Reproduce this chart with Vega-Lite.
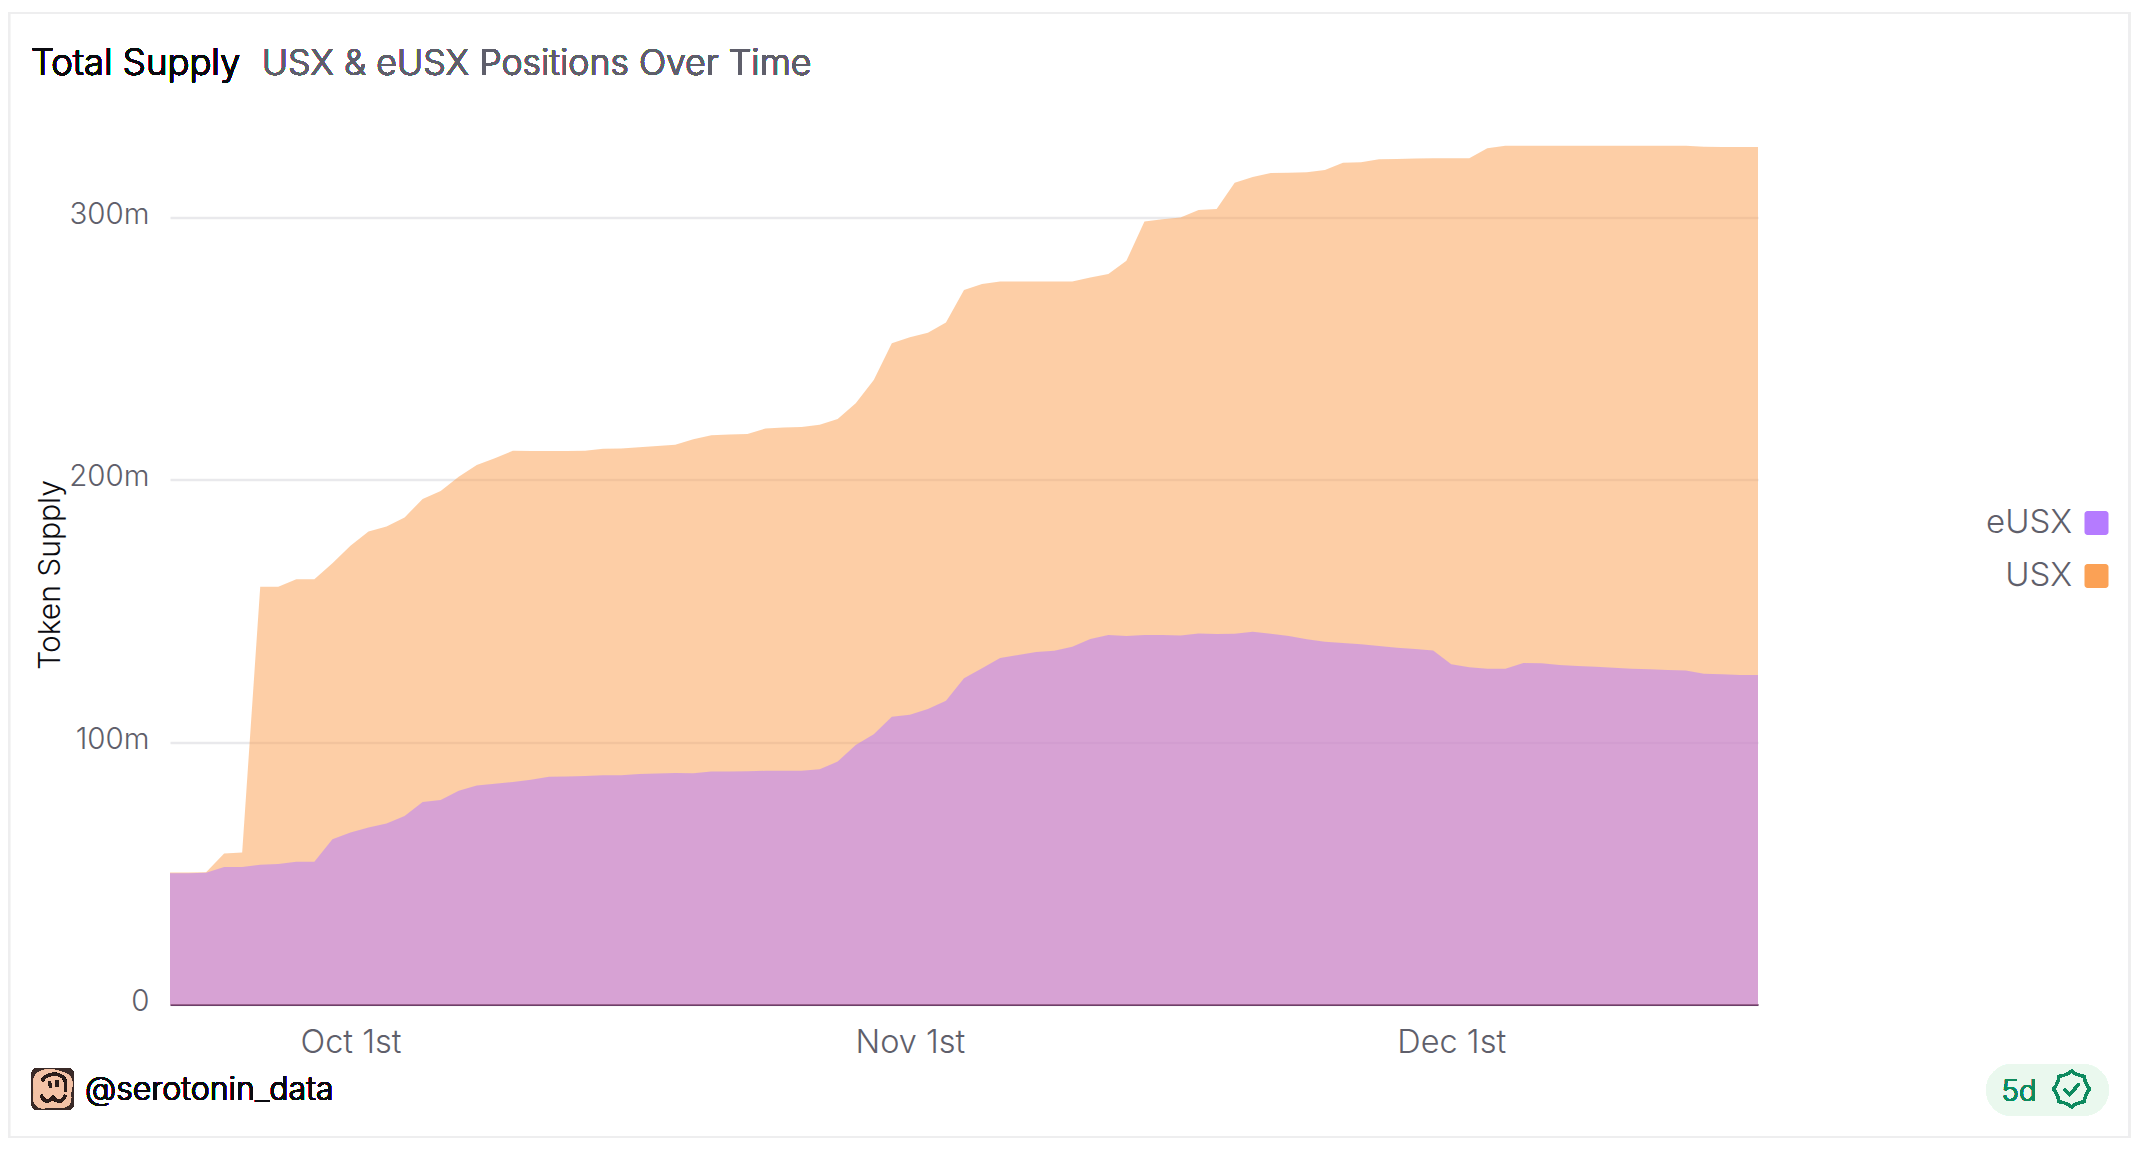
{"$schema":"https://vega.github.io/schema/vega-lite/v6.json","autosize":{"type":"none"},"width":1588,"height":879,"padding":{"left":170,"top":125.5,"right":385,"bottom":146.5},"background":"#ffffff","config":{"font":"Inter","view":{"stroke":null}},
"data":{"values":[
{"date":"2025-09-21","series":"USX","supply":50.3},{"date":"2025-09-22","series":"USX","supply":50.3},{"date":"2025-09-23","series":"USX","supply":50.4},{"date":"2025-09-24","series":"USX","supply":57.6},{"date":"2025-09-25","series":"USX","supply":57.9},{"date":"2025-09-26","series":"USX","supply":159.3},{"date":"2025-09-27","series":"USX","supply":159.3},{"date":"2025-09-28","series":"USX","supply":162.1},{"date":"2025-09-29","series":"USX","supply":162.1},{"date":"2025-09-30","series":"USX","supply":168.2},
{"date":"2025-10-01","series":"USX","supply":174.9},{"date":"2025-10-02","series":"USX","supply":180.3},{"date":"2025-10-03","series":"USX","supply":182.2},{"date":"2025-10-04","series":"USX","supply":185.7},{"date":"2025-10-05","series":"USX","supply":192.7},{"date":"2025-10-06","series":"USX","supply":195.8},{"date":"2025-10-07","series":"USX","supply":201.2},{"date":"2025-10-08","series":"USX","supply":205.7},{"date":"2025-10-09","series":"USX","supply":208.2},{"date":"2025-10-10","series":"USX","supply":211.1},
{"date":"2025-10-11","series":"USX","supply":211},{"date":"2025-10-12","series":"USX","supply":211},{"date":"2025-10-13","series":"USX","supply":211},{"date":"2025-10-14","series":"USX","supply":211.1},{"date":"2025-10-15","series":"USX","supply":211.9},{"date":"2025-10-16","series":"USX","supply":212},{"date":"2025-10-17","series":"USX","supply":212.4},{"date":"2025-10-18","series":"USX","supply":212.9},{"date":"2025-10-19","series":"USX","supply":213.4},{"date":"2025-10-20","series":"USX","supply":215.5},
{"date":"2025-10-21","series":"USX","supply":217},{"date":"2025-10-22","series":"USX","supply":217.3},{"date":"2025-10-23","series":"USX","supply":217.5},{"date":"2025-10-24","series":"USX","supply":219.6},{"date":"2025-10-25","series":"USX","supply":220},{"date":"2025-10-26","series":"USX","supply":220.2},{"date":"2025-10-27","series":"USX","supply":221},{"date":"2025-10-28","series":"USX","supply":223.2},{"date":"2025-10-29","series":"USX","supply":229.2},{"date":"2025-10-30","series":"USX","supply":238.1},
{"date":"2025-10-31","series":"USX","supply":252.1},{"date":"2025-11-01","series":"USX","supply":254.4},{"date":"2025-11-02","series":"USX","supply":256.1},{"date":"2025-11-03","series":"USX","supply":260},{"date":"2025-11-04","series":"USX","supply":272.4},{"date":"2025-11-05","series":"USX","supply":274.7},{"date":"2025-11-06","series":"USX","supply":275.6},{"date":"2025-11-07","series":"USX","supply":275.6},{"date":"2025-11-08","series":"USX","supply":275.6},{"date":"2025-11-09","series":"USX","supply":275.6},
{"date":"2025-11-10","series":"USX","supply":275.6},{"date":"2025-11-11","series":"USX","supply":277.2},{"date":"2025-11-12","series":"USX","supply":278.5},{"date":"2025-11-13","series":"USX","supply":283.5},{"date":"2025-11-14","series":"USX","supply":298.5},{"date":"2025-11-15","series":"USX","supply":299.4},{"date":"2025-11-16","series":"USX","supply":300},{"date":"2025-11-17","series":"USX","supply":302.9},{"date":"2025-11-18","series":"USX","supply":303.3},{"date":"2025-11-19","series":"USX","supply":313.3},
{"date":"2025-11-20","series":"USX","supply":315.5},{"date":"2025-11-21","series":"USX","supply":317},{"date":"2025-11-22","series":"USX","supply":317.1},{"date":"2025-11-23","series":"USX","supply":317.3},{"date":"2025-11-24","series":"USX","supply":318.1},{"date":"2025-11-25","series":"USX","supply":320.9},{"date":"2025-11-26","series":"USX","supply":321.1},{"date":"2025-11-27","series":"USX","supply":322.2},{"date":"2025-11-28","series":"USX","supply":322.3},{"date":"2025-11-29","series":"USX","supply":322.5},
{"date":"2025-11-30","series":"USX","supply":322.6},{"date":"2025-12-01","series":"USX","supply":322.6},{"date":"2025-12-02","series":"USX","supply":322.6},{"date":"2025-12-03","series":"USX","supply":326.4},{"date":"2025-12-04","series":"USX","supply":327.4},{"date":"2025-12-05","series":"USX","supply":327.4},{"date":"2025-12-06","series":"USX","supply":327.4},{"date":"2025-12-07","series":"USX","supply":327.4},{"date":"2025-12-08","series":"USX","supply":327.4},{"date":"2025-12-09","series":"USX","supply":327.4},
{"date":"2025-12-10","series":"USX","supply":327.4},{"date":"2025-12-11","series":"USX","supply":327.4},{"date":"2025-12-12","series":"USX","supply":327.4},{"date":"2025-12-13","series":"USX","supply":327.4},{"date":"2025-12-14","series":"USX","supply":327.4},{"date":"2025-12-15","series":"USX","supply":327},{"date":"2025-12-16","series":"USX","supply":326.9},{"date":"2025-12-17","series":"USX","supply":326.9},{"date":"2025-12-18","series":"USX","supply":326.9},
{"date":"2025-09-21","series":"eUSX","supply":50},{"date":"2025-09-22","series":"eUSX","supply":50},{"date":"2025-09-23","series":"eUSX","supply":50.2},{"date":"2025-09-24","series":"eUSX","supply":52.4},{"date":"2025-09-25","series":"eUSX","supply":52.4},{"date":"2025-09-26","series":"eUSX","supply":53.3},{"date":"2025-09-27","series":"eUSX","supply":53.6},{"date":"2025-09-28","series":"eUSX","supply":54.4},{"date":"2025-09-29","series":"eUSX","supply":54.4},{"date":"2025-09-30","series":"eUSX","supply":63},
{"date":"2025-10-01","series":"eUSX","supply":65.6},{"date":"2025-10-02","series":"eUSX","supply":67.5},{"date":"2025-10-03","series":"eUSX","supply":69},{"date":"2025-10-04","series":"eUSX","supply":71.9},{"date":"2025-10-05","series":"eUSX","supply":77.2},{"date":"2025-10-06","series":"eUSX","supply":78},{"date":"2025-10-07","series":"eUSX","supply":81.5},{"date":"2025-10-08","series":"eUSX","supply":83.5},{"date":"2025-10-09","series":"eUSX","supply":84.2},{"date":"2025-10-10","series":"eUSX","supply":84.8},
{"date":"2025-10-11","series":"eUSX","supply":85.7},{"date":"2025-10-12","series":"eUSX","supply":86.8},{"date":"2025-10-13","series":"eUSX","supply":86.9},{"date":"2025-10-14","series":"eUSX","supply":87.1},{"date":"2025-10-15","series":"eUSX","supply":87.4},{"date":"2025-10-16","series":"eUSX","supply":87.4},{"date":"2025-10-17","series":"eUSX","supply":87.9},{"date":"2025-10-18","series":"eUSX","supply":88.1},{"date":"2025-10-19","series":"eUSX","supply":88.3},{"date":"2025-10-20","series":"eUSX","supply":88.2},
{"date":"2025-10-21","series":"eUSX","supply":88.8},{"date":"2025-10-22","series":"eUSX","supply":88.8},{"date":"2025-10-23","series":"eUSX","supply":88.9},{"date":"2025-10-24","series":"eUSX","supply":89.1},{"date":"2025-10-25","series":"eUSX","supply":89.1},{"date":"2025-10-26","series":"eUSX","supply":89.1},{"date":"2025-10-27","series":"eUSX","supply":89.7},{"date":"2025-10-28","series":"eUSX","supply":92.6},{"date":"2025-10-29","series":"eUSX","supply":98.9},{"date":"2025-10-30","series":"eUSX","supply":103},
{"date":"2025-10-31","series":"eUSX","supply":109.7},{"date":"2025-11-01","series":"eUSX","supply":110.5},{"date":"2025-11-02","series":"eUSX","supply":112.7},{"date":"2025-11-03","series":"eUSX","supply":115.8},{"date":"2025-11-04","series":"eUSX","supply":124.4},{"date":"2025-11-05","series":"eUSX","supply":128.2},{"date":"2025-11-06","series":"eUSX","supply":132.1},{"date":"2025-11-07","series":"eUSX","supply":133.2},{"date":"2025-11-08","series":"eUSX","supply":134.4},{"date":"2025-11-09","series":"eUSX","supply":134.9},
{"date":"2025-11-10","series":"eUSX","supply":136.4},{"date":"2025-11-11","series":"eUSX","supply":139.3},{"date":"2025-11-12","series":"eUSX","supply":140.9},{"date":"2025-11-13","series":"eUSX","supply":140.5},{"date":"2025-11-14","series":"eUSX","supply":140.9},{"date":"2025-11-15","series":"eUSX","supply":140.9},{"date":"2025-11-16","series":"eUSX","supply":140.7},{"date":"2025-11-17","series":"eUSX","supply":141.4},{"date":"2025-11-18","series":"eUSX","supply":141.2},{"date":"2025-11-19","series":"eUSX","supply":141.3},
{"date":"2025-11-20","series":"eUSX","supply":142.1},{"date":"2025-11-21","series":"eUSX","supply":141.3},{"date":"2025-11-22","series":"eUSX","supply":140.5},{"date":"2025-11-23","series":"eUSX","supply":139.2},{"date":"2025-11-24","series":"eUSX","supply":138.3},{"date":"2025-11-25","series":"eUSX","supply":137.8},{"date":"2025-11-26","series":"eUSX","supply":137.3},{"date":"2025-11-27","series":"eUSX","supply":136.7},{"date":"2025-11-28","series":"eUSX","supply":136},{"date":"2025-11-29","series":"eUSX","supply":135.5},
{"date":"2025-11-30","series":"eUSX","supply":135},{"date":"2025-12-01","series":"eUSX","supply":129.7},{"date":"2025-12-02","series":"eUSX","supply":128.6},{"date":"2025-12-03","series":"eUSX","supply":128},{"date":"2025-12-04","series":"eUSX","supply":128},{"date":"2025-12-05","series":"eUSX","supply":130.2},{"date":"2025-12-06","series":"eUSX","supply":130.1},{"date":"2025-12-07","series":"eUSX","supply":129.4},{"date":"2025-12-08","series":"eUSX","supply":129},{"date":"2025-12-09","series":"eUSX","supply":128.8},
{"date":"2025-12-10","series":"eUSX","supply":128.4},{"date":"2025-12-11","series":"eUSX","supply":128},{"date":"2025-12-12","series":"eUSX","supply":127.8},{"date":"2025-12-13","series":"eUSX","supply":127.5},{"date":"2025-12-14","series":"eUSX","supply":127.3},{"date":"2025-12-15","series":"eUSX","supply":126.1},{"date":"2025-12-16","series":"eUSX","supply":125.9},{"date":"2025-12-17","series":"eUSX","supply":125.6},{"date":"2025-12-18","series":"eUSX","supply":125.6}
]},
"layer":[
{"mark":{"type":"area","opacity":0.52,"interpolate":"linear"},
"encoding":{
"x":{"field":"date","type":"temporal","scale":{"type":"utc","domain":[1758412800000,1766016000000]},"axis":{"title":null,"values":[1759276800000,1761955200000,1764547200000],"labelExpr":"utcFormat(datum.value,'%b')+' 1st'","grid":false,"ticks":false,"domain":true,"domainColor":"#6b3f69","domainWidth":2,"labelFont":"Inter","labelFontSize":32.5,"labelColor":"#5f5f6b","labelPadding":38,"labelBaseline":"middle","labelFontWeight":300}},
"y":{"field":"supply","type":"quantitative","stack":null,"scale":{"domain":[0,335.1],"nice":false},"axis":{"title":"Token Supply","titleFont":"Inter","titleFontSize":30,"titleFontWeight":300,"titleColor":"#0b0b10","titleX":-120,"titleY":449,"titleBaseline":"middle","titleAlign":"center","values":[0,100,200,300],"labelExpr":"datum.value==0?'0':datum.value+'m'","labelFont":"Inter","labelFontSize":29.5,"labelFontWeight":300,"labelColor":"#5f5f6b","labelPadding":21,"labelOffset":-3,"ticks":false,"domain":false,"grid":true,"gridColor":"#e9e9ec","gridWidth":2.5}},
"color":{"field":"series","type":"nominal","scale":{"domain":["eUSX","USX"],"range":["#b57bff","#fba155"]},"legend":{"title":null,"orient":"none","legendX":1910,"legendY":381,"symbolType":"M-0.75,-1H0.75A0.25,0.25 0 0 1 1,-0.75V0.75A0.25,0.25 0 0 1 0.75,1H-0.75A0.25,0.25 0 0 1 -1,0.75V-0.75A0.25,0.25 0 0 1 -0.75,-1Z","symbolSize":576,"symbolOpacity":1,"symbolStrokeWidth":0,"rowPadding":19,"labelAlign":"right","labelOffset":-41,"labelFont":"Inter","labelFontSize":33,"labelFontWeight":300,"labelColor":"#5f5f6b","labelLimit":300}}
}},
{"mark":{"type":"rect","fill":null,"stroke":"#eeeeef","strokeWidth":2},"encoding":{
"x":{"datum":{"year":2025,"month":"sep","date":12,"hours":2,"utc":true},"type":"temporal","scale":{"type":"utc","domain":[1758412800000,1766016000000]},"axis":{"title":null}},
"x2":{"datum":{"year":2026,"month":"jan","date":7,"hours":14,"utc":true}},
"y":{"datum":378,"type":"quantitative","scale":{"domain":[0,335.1],"nice":false},"axis":{"title":"Token Supply"}},
"y2":{"datum":-50.5}}},
{"mark":{"type":"text","text":"Total Supply","align":"left","baseline":"alphabetic","font":"Inter","fontSize":36.5,"fontWeight":300,"color":"#0b0b10"},"encoding":{
"x":{"datum":{"year":2025,"month":"sep","date":13,"hours":7,"utc":true},"type":"temporal","scale":{"type":"utc","domain":[1758412800000,1766016000000]},"axis":{"title":null}},
"y":{"datum":354.5,"type":"quantitative","scale":{"domain":[0,335.1],"nice":false},"axis":{"title":"Token Supply"}}}},
{"mark":{"type":"text","text":"USX & eUSX Positions Over Time","align":"left","baseline":"alphabetic","font":"Inter","fontSize":35.7,"fontWeight":300,"color":"#5f5f6b"},"encoding":{
"x":{"datum":{"year":2025,"month":"sep","date":26,"hours":2,"utc":true},"type":"temporal","scale":{"type":"utc","domain":[1758412800000,1766016000000]},"axis":{"title":null}},
"y":{"datum":354.5,"type":"quantitative","scale":{"domain":[0,335.1],"nice":false},"axis":{"title":"Token Supply"}}}},
{"mark":{"type":"text","text":"@serotonin_data","align":"left","baseline":"alphabetic","font":"Inter","fontSize":32.1,"fontWeight":300,"color":"#0b0b10"},"encoding":{
"x":{"datum":{"year":2025,"month":"sep","date":16,"hours":7,"utc":true},"type":"temporal","scale":{"type":"utc","domain":[1758412800000,1766016000000]},"axis":{"title":null}},
"y":{"datum":-36.4,"type":"quantitative","scale":{"domain":[0,335.1],"nice":false},"axis":{"title":"Token Supply"}}}},
{"mark":{"type":"point","filled":true,"opacity":1,"size":1764,"color":"#3a2a28","shape":"M-0.7,-1H0.7A0.3,0.3 0 0 1 1,-0.7V0.7A0.3,0.3 0 0 1 0.7,1H-0.7A0.3,0.3 0 0 1 -1,0.7V-0.7A0.3,0.3 0 0 1 -0.7,-1Z"},"encoding":{
"x":{"datum":{"year":2025,"month":"sep","date":14,"hours":12,"utc":true},"type":"temporal","scale":{"type":"utc","domain":[1758412800000,1766016000000]},"axis":{"title":null}},
"y":{"datum":-32.2,"type":"quantitative","scale":{"domain":[0,335.1],"nice":false},"axis":{"title":"Token Supply"}}}},
{"mark":{"type":"point","filled":true,"opacity":1,"size":1764,"color":"#f3c2a6","shape":"M-0.4,-0.9C-0.1,-1 0.2,-0.9 0.5,-0.8C0.9,-0.7 1,-0.3 0.9,0C0.8,0.3 1,0.6 0.7,0.8C0.4,1 0,0.85 -0.3,0.9C-0.7,1 -1,0.7 -0.9,0.3C-0.85,0 -1,-0.3 -0.85,-0.6C-0.75,-0.8 -0.6,-0.85 -0.4,-0.9Z"},"encoding":{
"x":{"datum":{"year":2025,"month":"sep","date":14,"hours":12,"utc":true},"type":"temporal","scale":{"type":"utc","domain":[1758412800000,1766016000000]},"axis":{"title":null}},
"y":{"datum":-32.2,"type":"quantitative","scale":{"domain":[0,335.1],"nice":false},"axis":{"title":"Token Supply"}}}},
{"mark":{"type":"point","filled":false,"opacity":1,"size":1764,"stroke":"#2a1c1a","strokeWidth":2.5,"shape":"M-0.55,0.3C-0.35,0.75 -0.1,0.55 0,0.4C0.15,0.6 0.45,0.7 0.6,0.3M-0.15,-0.35L-0.1,-0.05M0.2,-0.4L0.2,-0.1M-0.5,-0.4C-0.3,-0.75 0.2,-0.8 0.5,-0.55C0.75,-0.3 0.5,0 0.65,0.1"},"encoding":{
"x":{"datum":{"year":2025,"month":"sep","date":14,"hours":12,"utc":true},"type":"temporal","scale":{"type":"utc","domain":[1758412800000,1766016000000]},"axis":{"title":null}},
"y":{"datum":-32.2,"type":"quantitative","scale":{"domain":[0,335.1],"nice":false},"axis":{"title":"Token Supply"}}}},
{"mark":{"type":"rule","strokeWidth":52,"strokeCap":"round","color":"#eaf8ee"},"encoding":{
"x":{"datum":{"year":2026,"month":"jan","date":1,"hours":2,"utc":true},"type":"temporal","scale":{"type":"utc","domain":[1758412800000,1766016000000]},"axis":{"title":null}},
"x2":{"datum":{"year":2026,"month":"jan","date":5,"utc":true}},
"y":{"datum":-32.6,"type":"quantitative","scale":{"domain":[0,335.1],"nice":false},"axis":{"title":"Token Supply"}}}},
{"mark":{"type":"text","text":"5d","align":"left","baseline":"alphabetic","font":"Inter","fontSize":29.5,"fontWeight":300,"color":"#0e8a5f"},"encoding":{
"x":{"datum":{"year":2025,"month":"dec","date":31,"hours":12,"utc":true},"type":"temporal","scale":{"type":"utc","domain":[1758412800000,1766016000000]},"axis":{"title":null}},
"y":{"datum":-36.7,"type":"quantitative","scale":{"domain":[0,335.1],"nice":false},"axis":{"title":"Token Supply"}}}},
{"mark":{"type":"point","filled":false,"opacity":1,"size":1296,"stroke":"#0e8a5f","strokeWidth":2.5,"shape":"M0,-1Q0.306,-0.739 0.707,-0.707Q0.739,-0.306 1,0Q0.739,0.306 0.707,0.707Q0.306,0.739 0,1Q-0.306,0.739 -0.707,0.707Q-0.739,0.306 -1,0Q-0.739,-0.306 -0.707,-0.707Q-0.306,-0.739 0,-1ZM-0.4,0.02L-0.1,0.3L0.42,-0.28"},"encoding":{
"x":{"datum":{"year":2026,"month":"jan","date":4,"hours":9,"utc":true},"type":"temporal","scale":{"type":"utc","domain":[1758412800000,1766016000000]},"axis":{"title":null}},
"y":{"datum":-32.2,"type":"quantitative","scale":{"domain":[0,335.1],"nice":false},"axis":{"title":"Token Supply"}}}}
]}
